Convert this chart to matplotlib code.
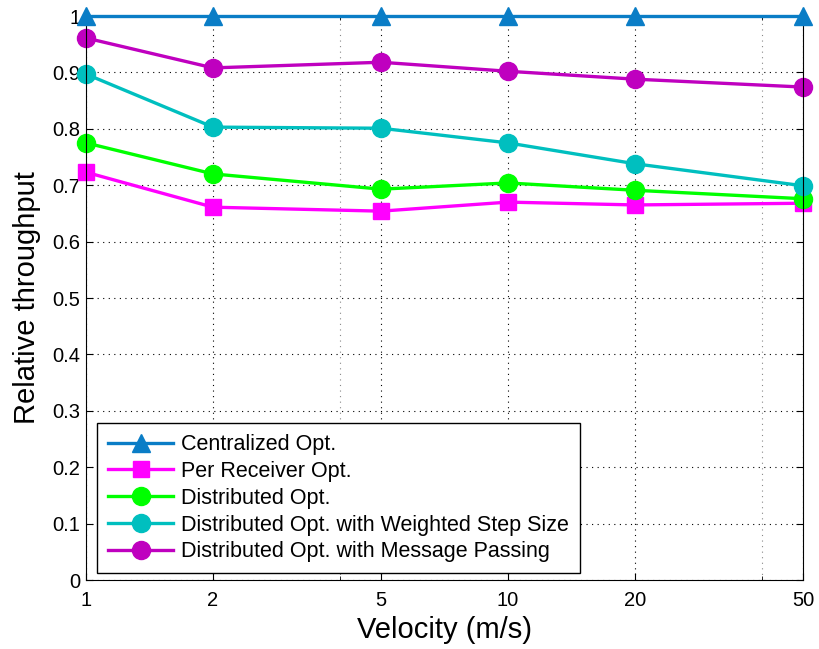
import matplotlib
matplotlib.use('Agg')
import matplotlib.pyplot as plt
from matplotlib.ticker import FixedLocator, NullFormatter

plt.rcParams['font.family'] = ['Liberation Sans', 'DejaVu Sans']

velocity = [1, 2, 5, 10, 20, 50]
centralized = [1.0, 1.0, 1.0, 1.0, 1.0, 1.0]
per_receiver = [0.723, 0.661, 0.654, 0.670, 0.665, 0.668]
distributed = [0.775, 0.720, 0.693, 0.704, 0.691, 0.676]
weighted_step = [0.897, 0.803, 0.801, 0.775, 0.738, 0.699]
message_passing = [0.961, 0.908, 0.918, 0.902, 0.888, 0.874]

labels = ['Centralized Opt.', 'Per Receiver Opt.', 'Distributed Opt.',
          'Distributed Opt. with Weighted Step Size',
          'Distributed Opt. with Message Passing']

fig = plt.figure(figsize=(8.19, 6.49), dpi=100)
ax = fig.add_axes([86/819, 69/649, 717/819, 564/649])

lw = 2.4
ms = 13
ax.plot(velocity, centralized, '-^', color='#0A7DC6', lw=lw, ms=ms, label=labels[0], clip_on=False, zorder=5)
ax.plot(velocity, per_receiver, '-s', color='#FF00FF', lw=lw, ms=11, label=labels[1], clip_on=False)
ax.plot(velocity, distributed, '-o', color='#00FF00', lw=lw, ms=ms, label=labels[2], clip_on=False)
ax.plot(velocity, weighted_step, '-o', color='#00BFBF', lw=lw, ms=ms, label=labels[3], clip_on=False)
ax.plot(velocity, message_passing, '-o', color='#BF00BF', lw=lw, ms=ms, label=labels[4], clip_on=False)

ax.set_xscale('log')
ax.set_xlim(1, 50)
ax.set_ylim(0, 1)
ax.xaxis.set_major_locator(FixedLocator(velocity))
ax.set_xticklabels([str(v) for v in velocity])
ax.xaxis.set_minor_locator(FixedLocator([4, 40]))
ax.xaxis.set_minor_formatter(NullFormatter())
ax.set_yticks([i / 10 for i in range(11)])
ax.set_yticklabels(['0'] + ['0.%d' % i for i in range(1, 10)] + ['1'])

ax.grid(True, which='major', color='black', linestyle=(0, (1, 4)), linewidth=0.8)
ax.grid(True, which='minor', axis='x', color='#888888', linestyle=(0, (1, 4)), linewidth=0.8)
ax.tick_params(which='both', direction='in', top=True, right=True, labelsize=14.5)
ax.tick_params(axis='x', pad=8)
ax.tick_params(axis='y', pad=4)
ax.tick_params(which='major', length=5)
ax.tick_params(which='minor', length=3)

ax.set_xlabel('Velocity (m/s)', fontsize=21, labelpad=4)
ax.set_ylabel('Relative throughput', fontsize=21, labelpad=8)

leg = ax.legend(loc='lower left', bbox_to_anchor=(0.016, 0.012), fontsize=15.5,
                handlelength=3.0, fancybox=False, framealpha=1, edgecolor='black',
                borderaxespad=0, borderpad=0.5, labelspacing=0.27, handletextpad=0.4)
leg.get_frame().set_linewidth(1)

fig.savefig('out.png', dpi=100)
